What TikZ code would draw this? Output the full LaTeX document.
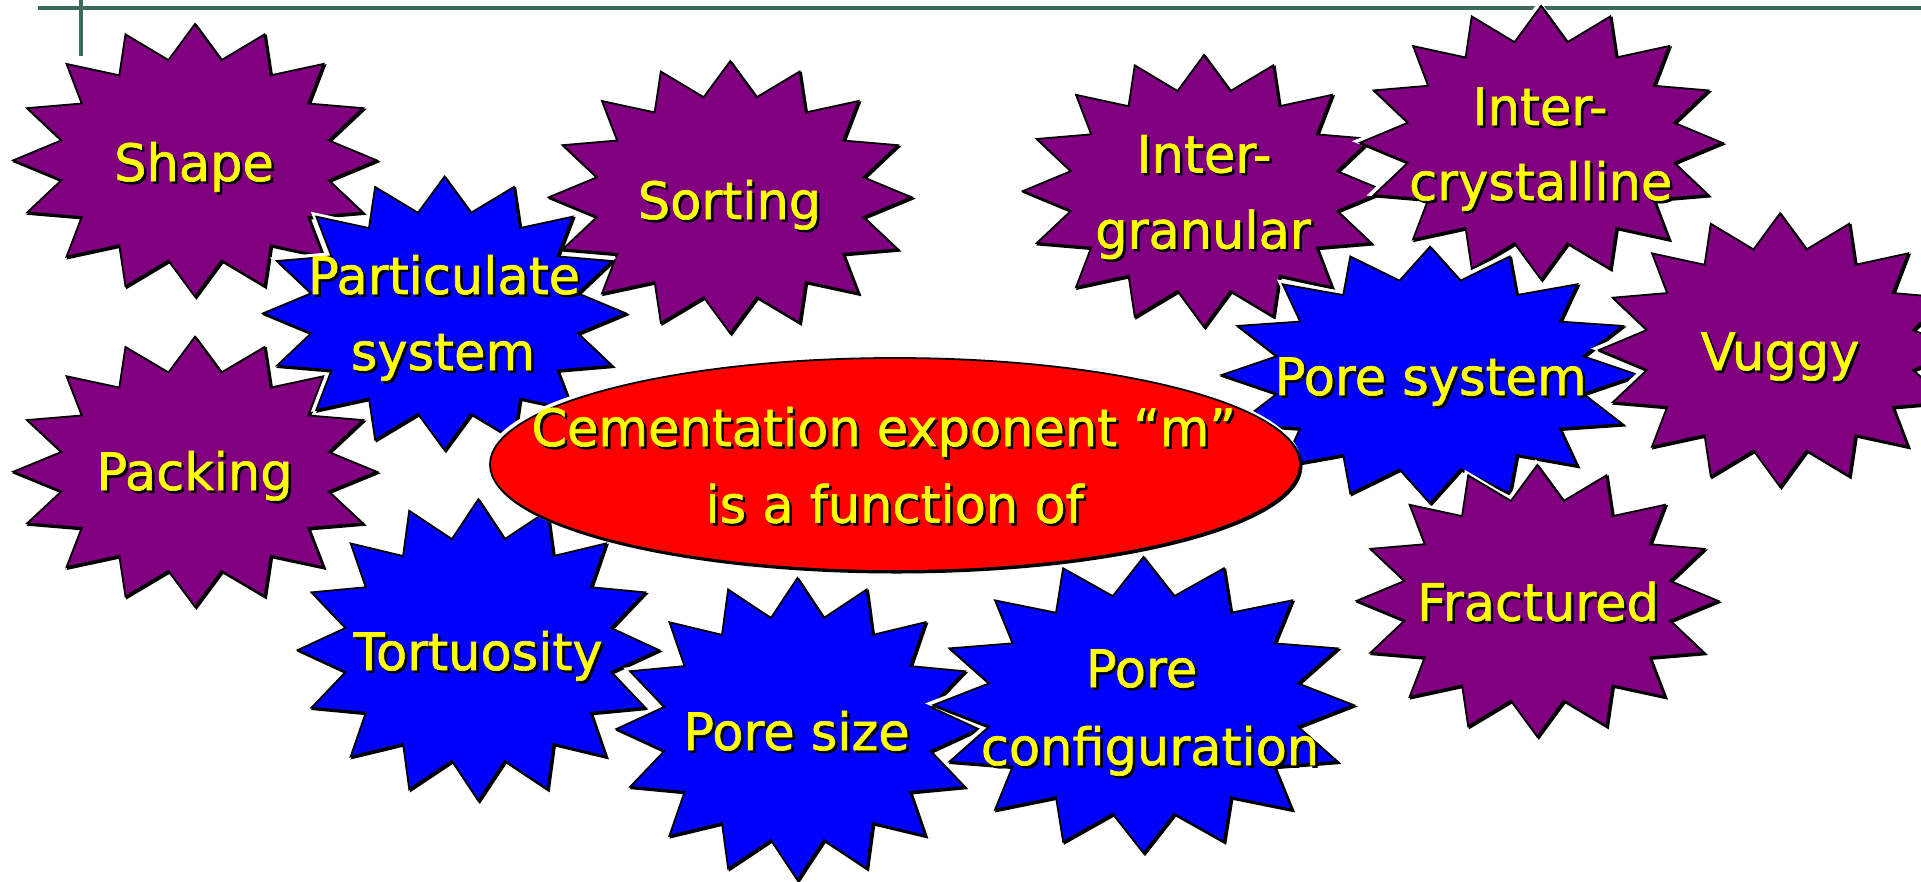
\documentclass[tikz,border=0pt]{standalone}
\usepackage{fontspec}
\setmainfont{DejaVu Sans}[FakeStretch=0.99, FakeBold=1.2]
\definecolor{pptpurple}{RGB}{128,0,128}
\definecolor{pptblue}{RGB}{0,0,255}
\definecolor{pptred}{RGB}{255,0,0}
\definecolor{pptyellow}{RGB}{255,255,0}
\definecolor{rulegreen}{RGB}{62,106,90}
\newcommand{\starpath}[4]{plot[samples at={0,1,...,31}, variable=\k] ({(#1)+(#3)*(1-0.25*mod(\k,2))*cos(90+11.25*\k)}, {(#2)+(#4)*(1-0.25*mod(\k,2))*sin(90+11.25*\k)}) -- cycle}
\newcommand{\burst}[5]{%
  \draw[halo] \starpath{#1-1.5}{#2-1.5}{#3}{#4};
  \draw[shade] \starpath{#1+1.5}{#2+1.5}{#3}{#4};
  \draw[burstline, fill=#5] \starpath{#1}{#2}{#3}{#4};
}
\newcommand{\lbl}[4]{%
  \node[lbltext, text=black] (#1-s) at ({#2+2.5},{#3+2.5}) {#4};
  \node[lbltext, text=pptyellow] (#1) at (#2,#3) {#4};
}
\begin{document}
\begin{tikzpicture}[x=1pt,y=-1pt,
  halo/.style={white, fill=white, line width=5pt, line join=miter},
  shade/.style={black, fill=black, line width=2pt, line join=miter},
  burstline/.style={black, line width=1.8pt, line join=miter},
  lbltext/.style={anchor=base, inner sep=0pt, outer sep=0pt, font=\fontsize{51.5}{60}\selectfont},
  rule/.style={rulegreen, line width=4pt}]
\useasboundingbox (0,0) rectangle (1921,881);
\fill[white] (0,0) rectangle (1921,881);
% header rules
\draw[rule] (38,7.5) -- (1921,7.5);
\draw[rule] (81,0) -- (81,56);
% left group
\burst{195}{160.3}{181.7}{136.3}{pptpurple}
\lbl{shape}{194}{181}{Shape}
\burst{195}{471.7}{181.7}{135}{pptpurple}
\lbl{packing}{194.5}{490}{Packing}
\burst{730.2}{197.2}{181.3}{136}{pptpurple}
\lbl{sorting}{729.5}{219}{Sorting}
\burst{444.5}{313.3}{181.3}{136.7}{pptblue}
\lbl{partic1}{444}{294}{Particulate}
\lbl{partic2}{443}{370}{system}
% bottom group
\burst{478.3}{650}{180.5}{150.7}{pptblue}
\lbl{tort}{478}{670}{Tortuosity}
\burst{797.4}{729}{181}{151}{pptblue}
\lbl{poresize}{796.5}{750}{Pore size}
\burst{1143.5}{705}{210}{148}{pptblue}
\lbl{porecfg1}{1141.5}{687}{Pore}
\lbl{porecfg2}{1150}{765}{configuration}
% right group
\burst{1204}{191}{181}{136}{pptpurple}
\lbl{igran1}{1204}{172.5}{Inter-}
\lbl{igran2}{1203}{248.5}{granular}
\burst{1541}{142.7}{181}{136.7}{pptpurple}
\lbl{icrys1}{1540}{125}{Inter-}
\lbl{icrys2}{1540.7}{200}{crystalline}
\burst{1430}{375}{208.3}{128.3}{pptblue}
\lbl{poresys}{1430.7}{395}{Pore system}
\burst{1780}{350}{181}{136.7}{pptpurple}
\lbl{vuggy}{1780}{370}{Vuggy}
\burst{1537.3}{600.8}{180.6}{135.8}{pptpurple}
\lbl{fract}{1538}{620.7}{Fractured}
% central ellipse
\draw[halo] (893.5,463) ellipse [x radius=405pt, y radius=106.5pt];
\draw[shade] (896.5,466) ellipse [x radius=405pt, y radius=106.5pt];
\draw[burstline, fill=pptred] (895,464.5) ellipse [x radius=405pt, y radius=106.5pt];
\lbl{cem1}{883.6}{446}{Cementation exponent “m”}
\lbl{cem2}{894.5}{522.7}{is a function of}
\end{tikzpicture}
\end{document}
